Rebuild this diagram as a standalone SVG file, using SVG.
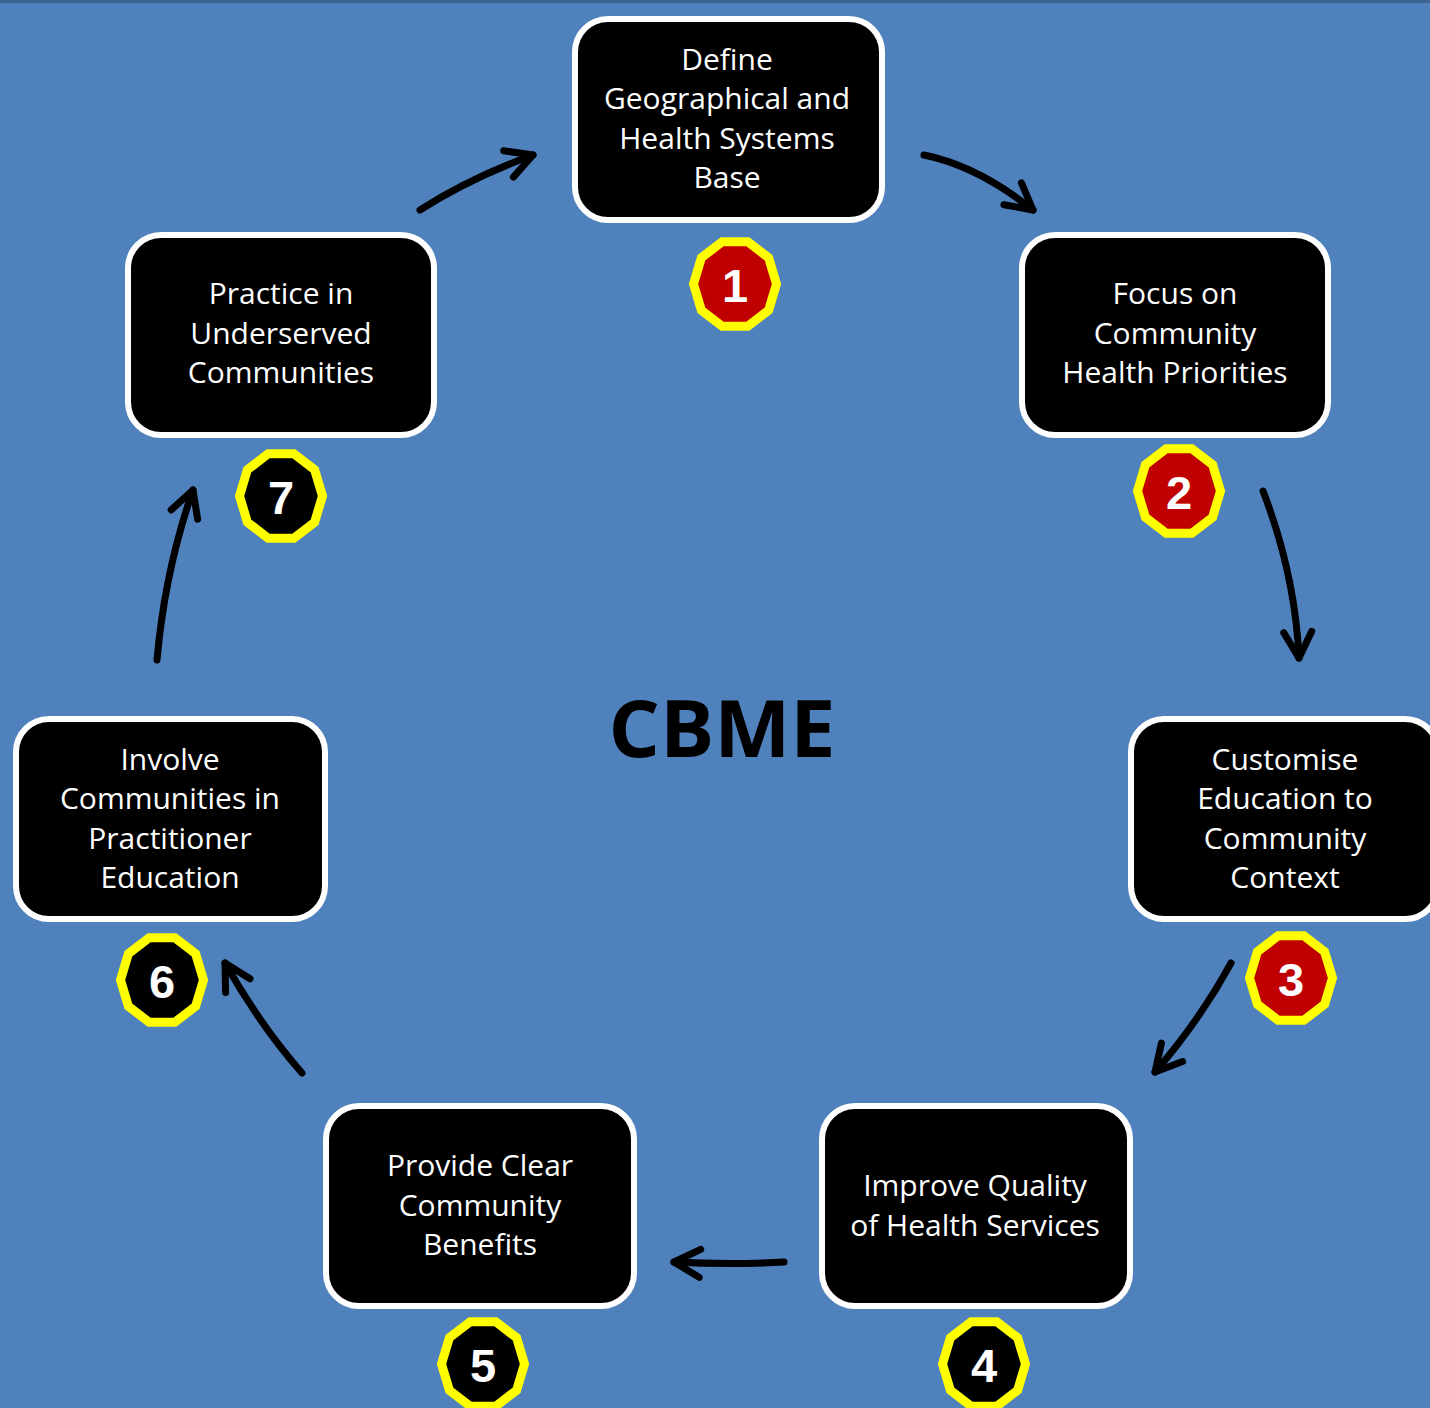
<svg xmlns="http://www.w3.org/2000/svg" xmlns:xlink="http://www.w3.org/1999/xlink" width="1430" height="1408" viewBox="0 0 1430 1408">
<style>
.box{fill:#000;stroke:#fff;stroke-width:6}
.lbl{font-family:"Open Sans","Liberation Sans",sans-serif;font-size:30px;fill:#fff;text-anchor:middle}
.num{font-family:"Liberation Sans",Arial,sans-serif;font-weight:bold;font-size:47px;fill:#fff;text-anchor:middle}
.arr{fill:none;stroke:#000;stroke-width:7;stroke-linecap:round;marker-end:url(#head)}
.red{fill:#C00000}
.blk{fill:#000}
</style>
<defs>
<marker id="head" markerUnits="userSpaceOnUse" markerWidth="40" markerHeight="40" viewBox="-35 -20 40 40" refX="0" refY="0" orient="auto" overflow="visible">
<path d="M-26,-14 L0,0 L-26,14" fill="none" stroke="#000" stroke-width="7" stroke-linecap="round" stroke-linejoin="round"/>
</marker>
<polygon id="badge" points="41.5,0 33.6,26.2 12.8,42.3 -12.8,42.3 -33.6,26.2 -41.5,0 -33.6,-26.2 -12.8,-42.3 12.8,-42.3 33.6,-26.2" stroke="#FFFF00" stroke-width="9" stroke-linejoin="miter"/>
</defs>
<rect x="0" y="0" width="1430" height="1408" fill="#4F81BD"/>
<rect x="0" y="0" width="1430" height="3" fill="#3D6391"/>

<g id="connectors">
<path class="arr" d="M420,210 Q470,178 533,155"/>
<path class="arr" d="M924,155 Q978,166 1033,210"/>
<path class="arr" d="M1263,491 Q1295,574 1299,658"/>
<path class="arr" d="M1231,963 Q1200,1020 1155,1072"/>
<path class="arr" d="M784,1262 Q730,1265 674,1262"/>
<path class="arr" d="M302,1073 Q260,1025 225,963"/>
<path class="arr" d="M157,660 Q165,570 193,490"/>
</g>

<g id="node1">
<rect class="box" x="575" y="19" width="307" height="201" rx="33"/>
<text class="lbl" x="727" y="70">Define</text>
<text class="lbl" x="727" y="109">Geographical and</text>
<text class="lbl" x="727" y="149">Health Systems</text>
<text class="lbl" x="727" y="188">Base</text>
<use xlink:href="#badge" href="#badge" x="735" y="284" class="red"/>
<text class="num" x="735" y="302">1</text>
</g>

<g id="node2">
<rect class="box" x="1022" y="235" width="306" height="200" rx="33"/>
<text class="lbl" x="1175" y="304">Focus on</text>
<text class="lbl" x="1175" y="344">Community</text>
<text class="lbl" x="1175" y="383">Health Priorities</text>
<use xlink:href="#badge" href="#badge" x="1179" y="491" class="red"/>
<text class="num" x="1179" y="509">2</text>
</g>

<g id="node3">
<rect class="box" x="1131" y="719" width="307" height="200" rx="33"/>
<text class="lbl" x="1285" y="770">Customise</text>
<text class="lbl" x="1285" y="809">Education to</text>
<text class="lbl" x="1285" y="849">Community</text>
<text class="lbl" x="1285" y="888">Context</text>
<use xlink:href="#badge" href="#badge" x="1291" y="978" class="red"/>
<text class="num" x="1291" y="996">3</text>
</g>

<g id="node4">
<rect class="box" x="822" y="1106" width="308" height="200" rx="33"/>
<text class="lbl" x="975" y="1196">Improve Quality</text>
<text class="lbl" x="975" y="1236">of Health Services</text>
<use xlink:href="#badge" href="#badge" x="984" y="1364" class="blk"/>
<text class="num" x="984" y="1382">4</text>
</g>

<g id="node5">
<rect class="box" x="326" y="1106" width="308" height="200" rx="33"/>
<text class="lbl" x="480" y="1176">Provide Clear</text>
<text class="lbl" x="480" y="1216">Community</text>
<text class="lbl" x="480" y="1255">Benefits</text>
<use xlink:href="#badge" href="#badge" x="483" y="1364" class="blk"/>
<text class="num" x="483" y="1382">5</text>
</g>

<g id="node6">
<rect class="box" x="16" y="719" width="309" height="200" rx="33"/>
<text class="lbl" x="170" y="770">Involve</text>
<text class="lbl" x="170" y="809">Communities in</text>
<text class="lbl" x="170" y="849">Practitioner</text>
<text class="lbl" x="170" y="888">Education</text>
<use xlink:href="#badge" href="#badge" x="162" y="980" class="blk"/>
<text class="num" x="162" y="998">6</text>
</g>

<g id="node7">
<rect class="box" x="128" y="235" width="306" height="200" rx="33"/>
<text class="lbl" x="281" y="304">Practice in</text>
<text class="lbl" x="281" y="344">Underserved</text>
<text class="lbl" x="281" y="383">Communities</text>
<use xlink:href="#badge" href="#badge" x="281" y="496" class="blk"/>
<text class="num" x="281" y="514">7</text>
</g>

<g id="center">
<text x="722" y="757" font-family="'Open Sans','Liberation Sans',sans-serif" font-weight="bold" font-size="78" fill="#000" text-anchor="middle" textLength="227" lengthAdjust="spacingAndGlyphs">CBME</text>
</g>
</svg>
